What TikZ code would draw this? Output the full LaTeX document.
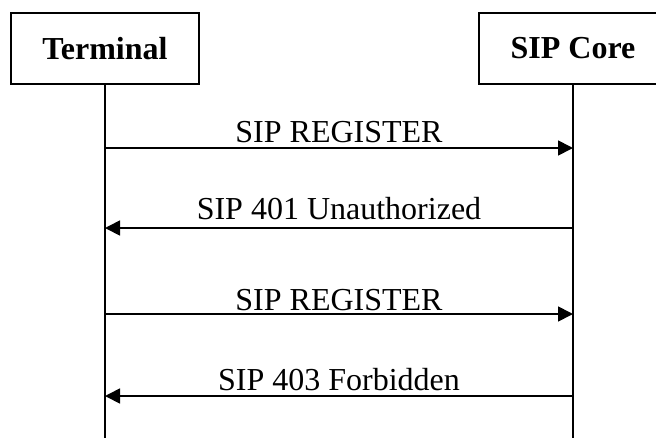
\documentclass[tikz,border=0pt]{standalone}
\usepackage{fontspec}
\setmainfont{Liberation Serif}
\usetikzlibrary{arrows.meta}
\begin{document}
\begin{tikzpicture}[x=1pt,y=-1pt,line width=1.7pt,
    box/.style={draw,rectangle,minimum width=188pt,minimum height=71pt,font=\fontsize{32}{38}\selectfont\bfseries},
    msg/.style={-{Triangle[length=15pt,width=15pt]}},
    lbl/.style={anchor=base,font=\fontsize{32}{38}\selectfont,inner sep=0pt}]

    \useasboundingbox (0,0) rectangle (656,437);
    \clip (0,0) rectangle (656,437);

    \node[box] (term) at (105,48.5) {Terminal};
    \node[box] (core) at (573,48.5) {SIP Core};

    \coordinate (tend) at (105,440);
    \coordinate (cend) at (573,440);
    \draw (term) -- (tend);
    \draw (core) -- (cend);

    \coordinate (t1) at (105,148);
    \coordinate (c1) at (573,148);
    \coordinate (t2) at (105,228);
    \coordinate (c2) at (573,228);
    \coordinate (t3) at (105,314);
    \coordinate (c3) at (573,314);
    \coordinate (t4) at (105,396);
    \coordinate (c4) at (573,396);

    \draw[msg] (t1) -- node[lbl,yshift=6pt] {SIP REGISTER} (c1);
    \draw[msg] (c2) -- node[lbl,yshift=9pt] {SIP 401 Unauthorized} (t2);
    \draw[msg] (t3) -- node[lbl,yshift=4pt] {SIP REGISTER} (c3);
    \draw[msg] (c4) -- node[lbl,yshift=6pt] {SIP 403 Forbidden} (t4);
\end{tikzpicture}
\end{document}
